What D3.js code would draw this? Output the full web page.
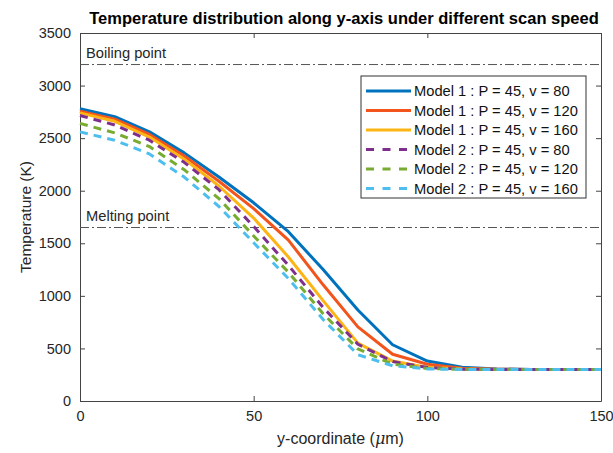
<!DOCTYPE html>
<html>
<head>
<meta charset="utf-8">
<script src="https://cdn.jsdelivr.net/npm/d3@7"></script>
<style>
  body { margin: 0; background: #fff; }
  text { font-family: "Liberation Sans", Arial, Helvetica, sans-serif; }
</style>
</head>
<body>
<div id="chart"></div>
<script>
// y-coordinate (um)
var yCoord = [0, 10, 20, 30, 40, 50, 60, 70, 80, 90, 100, 110, 120, 130, 140, 150];

// temperature (K) for each case
var m1v80  = [2780, 2705, 2560, 2360, 2130, 1885, 1610, 1250, 865, 535, 380, 322, 305, 300, 300, 300];
var m1v120 = [2755, 2680, 2535, 2330, 2090, 1830, 1530, 1105, 705, 445, 350, 312, 302, 300, 300, 300];
var m1v160 = [2740, 2660, 2510, 2300, 2045, 1740, 1370, 955, 550, 380, 320, 305, 300, 300, 300, 300];
var m2v80  = [2715, 2625, 2480, 2270, 2010, 1660, 1290, 890, 540, 375, 318, 303, 300, 300, 300, 300];
var m2v120 = [2640, 2550, 2420, 2200, 1925, 1570, 1225, 830, 495, 350, 310, 302, 300, 300, 300, 300];
var m2v160 = [2560, 2480, 2350, 2130, 1850, 1505, 1165, 775, 440, 335, 305, 300, 300, 300, 300, 300];

var seriesNames = [
  "Model 1 : P = 45, v = 80",
  "Model 1 : P = 45, v = 120",
  "Model 1 : P = 45, v = 160",
  "Model 2 : P = 45, v = 80",
  "Model 2 : P = 45, v = 120",
  "Model 2 : P = 45, v = 160"
];
var seriesValues = [m1v80, m1v120, m1v160, m2v80, m2v120, m2v160];
var seriesColors = ["#0072BD", "#F2541B", "#FDB515", "#7E2F8E", "#77AC30", "#4DBEEE"];
var seriesDashed = [false, false, false, true, true, true];

var xTicks = [0, 50, 100, 150];
var yTicks = [0, 500, 1000, 1500, 2000, 2500, 3000, 3500];

var refLines = [
  { label: "Boiling point", value: 3200 },
  { label: "Melting point", value: 1650 }
];

var margin = { top: 33, right: 12, bottom: 52, left: 80 },
    width = 613 - margin.left - margin.right,
    height = 453 - margin.top - margin.bottom;

var svgRoot = d3.select("#chart")
  .append("svg")
  .attr("width", 613)
  .attr("height", 453);

var svg = svgRoot.append("g")
  .attr("transform", "translate(" + margin.left + "," + margin.top + ")");

var x = d3.scaleLinear().domain([0, 150]).range([0, width]);
var y = d3.scaleLinear().domain([0, 3500]).range([height, 0]);

var axisColor = "#262626";
var fmt = d3.format("d");

// box + ticks (MATLAB style: inward ticks on all four sides)
svg.append("g")
  .attr("transform", "translate(0," + height + ")")
  .call(d3.axisBottom(x).tickValues(xTicks).tickFormat(fmt).tickSizeInner(-5).tickSizeOuter(0).tickPadding(10))
  .call(function(g) {
    g.select(".domain").attr("stroke", "#444");
    g.selectAll(".tick line").attr("stroke", "#444");
    g.selectAll("text").style("font-size", "14.5px").attr("fill", axisColor);
  });

svg.append("g")
  .call(d3.axisLeft(y).tickValues(yTicks).tickFormat(fmt).tickSizeInner(-5).tickSizeOuter(0).tickPadding(9))
  .call(function(g) {
    g.select(".domain").attr("stroke", "#444");
    g.selectAll(".tick line").attr("stroke", "#444");
    g.selectAll("text").style("font-size", "14.5px").attr("fill", axisColor);
  });

svg.append("g")
  .call(d3.axisTop(x).tickValues(xTicks).tickSizeInner(-5).tickSizeOuter(0).tickFormat(""))
  .call(function(g) {
    g.select(".domain").attr("stroke", "#444");
    g.selectAll(".tick line").attr("stroke", "#444");
  });

svg.append("g")
  .attr("transform", "translate(" + width + ",0)")
  .call(d3.axisRight(y).tickValues(yTicks).tickSizeInner(-5).tickSizeOuter(0).tickFormat(""))
  .call(function(g) {
    g.select(".domain").attr("stroke", "#444");
    g.selectAll(".tick line").attr("stroke", "#444");
  });

// reference lines
refLines.forEach(function(r) {
  svg.append("line")
    .attr("x1", 0).attr("x2", width)
    .attr("y1", y(r.value)).attr("y2", y(r.value))
    .attr("stroke", "#555")
    .attr("stroke-width", 1)
    .attr("stroke-dasharray", "9,3,2,3");
  svg.append("text")
    .attr("x", 6)
    .attr("y", y(r.value) - 7)
    .style("font-size", "14.7px")
    .attr("fill", axisColor)
    .text(r.label);
});

// curves
var line = d3.line()
  .x(function(d, i) { return x(yCoord[i]); })
  .y(function(d) { return y(d); });

seriesValues.forEach(function(vals, k) {
  svg.append("path")
    .datum(vals)
    .attr("fill", "none")
    .attr("stroke", seriesColors[k])
    .attr("stroke-width", 3)
    .attr("stroke-linejoin", "round")
    .attr("stroke-dasharray", seriesDashed[k] ? "8,6" : null)
    .attr("d", line);
});

// legend
var legend = svg.append("g")
  .attr("transform", "translate(" + (361 - margin.left) + "," + (76 - margin.top) + ")");

legend.append("rect")
  .attr("width", 225)
  .attr("height", 122)
  .attr("fill", "#fff")
  .attr("stroke", "#333")
  .attr("stroke-width", 1);

seriesNames.forEach(function(name, k) {
  var ly = 15 + k * 19.5;
  legend.append("line")
    .attr("x1", 5).attr("x2", 50)
    .attr("y1", ly).attr("y2", ly)
    .attr("stroke", seriesColors[k])
    .attr("stroke-width", 3)
    .attr("stroke-dasharray", seriesDashed[k] ? "8,8.5" : null);
  legend.append("text")
    .attr("x", 53)
    .attr("y", ly + 5)
    .style("font-size", "14.7px")
    .attr("fill", "#111")
    .text(name);
});

// title
svgRoot.append("text")
  .attr("x", 344)
  .attr("y", 24)
  .attr("text-anchor", "middle")
  .style("font-size", "16.5px")
  .style("font-weight", "bold")
  .attr("fill", "#000")
  .text("Temperature distribution along y-axis under different scan speed");

// x label
var xl = svgRoot.append("text")
  .attr("x", margin.left + width / 2)
  .attr("y", 444)
  .attr("text-anchor", "middle")
  .style("font-size", "16px")
  .attr("fill", axisColor);
xl.append("tspan").text("y-coordinate (");
xl.append("tspan").style("font-style", "italic").style("font-family", "'DejaVu Serif', serif").text("\u03bc");
xl.append("tspan").text("m)");

// y label
svgRoot.append("text")
  .attr("transform", "translate(31," + (margin.top + height / 2) + ") rotate(-90)")
  .attr("text-anchor", "middle")
  .style("font-size", "15.5px")
  .attr("fill", axisColor)
  .text("Temperature (K)");
</script>
</body>
</html>
